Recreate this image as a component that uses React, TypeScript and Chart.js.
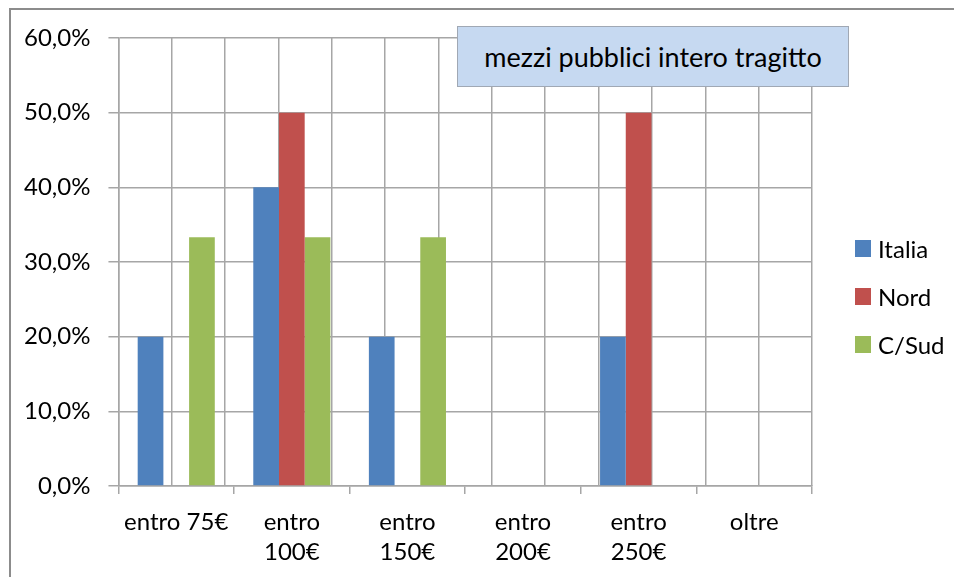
import React, { useEffect, useRef } from "react";
import { Chart, registerables } from "chart.js";

Chart.register(...registerables);

const categories: (string | string[])[] = [
  "entro 75€",
  ["entro", "100€"],
  ["entro", "150€"],
  ["entro", "200€"],
  ["entro", "250€"],
  "oltre",
];
const italia = [20, 40, 20, 0, 20, 0];
const nord = [0, 50, 0, 0, 50, 0];
const cSud = [33.3, 33.3, 33.3, 0, 0, 0];
const seriesNames = ["Italia", "Nord", "C/Sud"];
const seriesColors = ["#4F81BD", "#C0504D", "#9BBB59"];
const titleText = "mezzi pubblici intero tragitto";

const FONT = "Lato, 'Open Sans', sans-serif";
const GRID = "#A6A6A6";

export default function App() {
  const ref = useRef<HTMLCanvasElement | null>(null);

  useEffect(() => {
    if (!ref.current) return;
    const values = [italia, nord, cSud];
    const chart = new Chart(ref.current, {
      type: "bar",
      data: {
        labels: categories,
        datasets: values.map((v, i) => ({
          label: seriesNames[i],
          data: v,
          backgroundColor: seriesColors[i],
          borderWidth: 0,
          categoryPercentage: 0.667,
          barPercentage: 1,
        })),
      },
      options: {
        animation: false,
        responsive: false,
        maintainAspectRatio: false,
        layout: { padding: { left: 26, top: 38, right: 142, bottom: 11 } },
        plugins: {
          legend: { display: false },
          title: { display: false },
          tooltip: { enabled: false },
        },
        scales: {
          x: {
            type: "category",
            offset: true,
            grid: {
              offset: true,
              drawOnChartArea: false,
              drawTicks: true,
              tickLength: 8,
              color: GRID,
              lineWidth: 1.5,
            },
            border: { display: true, color: GRID, width: 1.5 },
            ticks: {
              color: "#000",
              padding: 13,
              maxRotation: 0,
              autoSkip: false,
              font: { family: FONT, size: 24, lineHeight: 1.25 },
            },
          },
          x2: {
            type: "linear",
            position: "top",
            min: 0,
            max: 6,
            grid: { color: GRID, lineWidth: 1.5, drawTicks: false },
            border: { display: false },
            ticks: { display: false, stepSize: 0.5 },
          },
          y: {
            min: 0,
            max: 60,
            grid: { color: GRID, lineWidth: 1.5, tickLength: 10 },
            border: { display: true, color: GRID, width: 1.5 },
            ticks: {
              stepSize: 10,
              color: "#000",
              padding: 18,
              font: { family: FONT, size: 24 },
              callback: (v: any) => Number(v).toFixed(1).replace(".", ",") + "%",
            },
          },
        },
      },
    });
    return () => chart.destroy();
  }, []);

  return (
    <div style={{ position: "absolute", left: 0, top: 0, width: 954, height: 577, background: "#fff", overflow: "hidden" }}>
      <canvas ref={ref} width={974} height={591} style={{ position: "absolute", left: -20, top: 0 }} />
      <div
        style={{
          position: "absolute",
          left: 9,
          top: 8,
          width: 960,
          height: 600,
          borderTop: "2px solid #8C8C8C",
          borderLeft: "2px solid #8C8C8C",
          pointerEvents: "none",
        }}
      />
      <div
        style={{
          position: "absolute",
          left: 457,
          top: 26,
          width: 390,
          height: 59,
          background: "#C6D9F1",
          border: "1px solid #A0A8B4",
          display: "flex",
          alignItems: "center",
          justifyContent: "center",
          fontFamily: FONT,
          fontSize: 27,
          color: "#000",
        }}
      >
        {titleText}
      </div>
      {seriesNames.map((name, i) => (
        <div
          key={name}
          style={{
            position: "absolute",
            left: 855,
            top: 233 + i * 48,
            height: 30,
            display: "flex",
            alignItems: "center",
            fontFamily: FONT,
            fontSize: 24,
            color: "#000",
          }}
        >
          <span style={{ display: "inline-block", width: 16, height: 17, background: seriesColors[i], marginRight: 7 }} />
          {name}
        </div>
      ))}
    </div>
  );
}
